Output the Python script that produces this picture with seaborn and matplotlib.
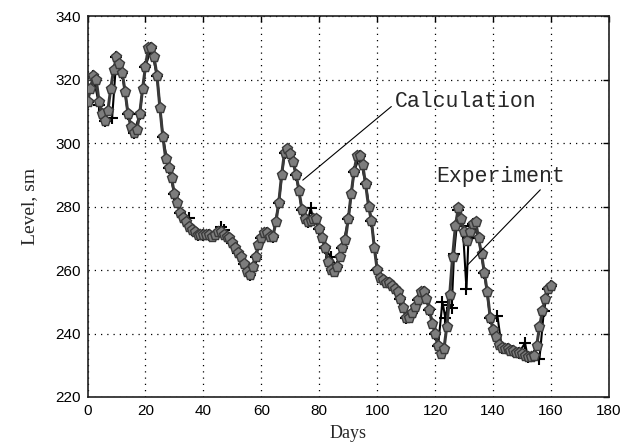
import numpy as np
import pandas as pd
import matplotlib
matplotlib.use("Agg")
import matplotlib.pyplot as plt
import seaborn as sns

# ---- data ----
calc_days = list(range(0, 161))
calc_level = [
    313, 317, 321, 320, 313, 309, 307, 310, 317, 323,
    327, 325, 322, 316, 309, 305, 303, 304, 309, 317,
    324, 330, 330, 327, 321, 311, 302, 295, 292, 289,
    284, 281, 278, 276.5, 275, 273.5, 272.5, 272, 271, 271,
    271, 271, 271, 270.5, 271, 272, 272, 271, 270.5, 270,
    268.5, 267, 265.5, 264, 262, 259.5, 258.5, 261, 264, 268,
    270, 271.5, 271.5, 270.5, 270.5, 275, 281, 290, 297, 298,
    296.5, 294, 290, 285, 279, 276, 275, 275.5, 276, 276,
    273, 270, 267, 262.5, 260, 259.5, 261, 264, 267, 269.5,
    276, 284, 291, 296, 296, 293, 287, 280, 275.5, 267,
    260, 257.5, 257, 256, 256, 255, 254, 253, 251, 248,
    245, 245, 246.5, 248.5, 250.5, 253, 253, 251, 247.5, 243,
    240, 236, 233.5, 235, 242, 252, 264, 274, 279.5, 276,
    272, 269, 272, 274.5, 275, 270, 265, 259, 253, 245,
    241, 239, 236.5, 235.5, 235, 235, 234.5, 234.5, 234, 234,
    233.5, 233, 232.5, 232.5, 233, 236, 242, 247, 251, 254,
    255,
]

exp_days = [0, 2, 4, 6, 8.5, 10, 12, 14, 16, 18, 20, 22, 24, 26, 28, 30, 32,
            35, 36, 38, 40, 42, 44, 46, 47, 48, 50, 52, 54, 56, 58, 60, 62,
            64, 66, 68, 70, 72, 74, 76, 77, 78, 80, 82, 84, 86, 88, 90, 92,
            94, 96, 98, 100, 102, 104, 106, 108, 110, 112, 114, 116, 118,
            120, 121, 122.5, 123.5, 124.5, 125.7, 126.5, 128, 129.5, 130.8,
            131.5, 133, 135, 137, 139, 141.5, 143, 145, 147, 149, 151, 152,
            154, 156, 157.5, 159, 160]
exp_level = [313, 321, 312, 307, 308, 327, 322, 309, 303, 309, 324, 330, 321,
             302, 292, 284, 278, 276.5, 272.5, 271, 271, 271, 271, 273.5, 272.5,
             270.5, 268.5, 265.5, 262, 258.5, 264, 270, 271.5, 270.5, 281,
             297, 296.5, 290, 279, 275, 279.5, 276, 273, 267, 264, 261, 267,
             276, 291, 296, 287, 275.5, 260, 257, 256, 254, 251, 245, 246.5,
             250.5, 253, 247.5, 240, 236, 250, 245, 249, 248, 265, 279, 274,
             254, 270, 274.5, 270, 259, 245, 245.5, 235.5, 235, 234.5, 234,
             237, 232.5, 233, 232, 247, 254, 255]

xticks = [0, 20, 40, 60, 80, 100, 120, 140, 160, 180]
yticks = [220, 240, 260, 280, 300, 320, 340]

calc_df = pd.DataFrame({"Days": calc_days, "Level": calc_level})
exp_df = pd.DataFrame({"Days": exp_days, "Level": exp_level})

sns.set_theme(style="white")
plt.rcParams["font.family"] = ["Liberation Sans", "DejaVu Sans"]

fig = plt.figure(figsize=(6.3, 4.45), dpi=100)
ax = fig.add_axes([87.5 / 630, 1 - 397 / 445, (609 - 87.5) / 630, (397 - 16) / 445])

sns.lineplot(data=exp_df, x="Days", y="Level", ax=ax, color="black",
             linewidth=1.5, marker="+", markersize=9, markeredgewidth=1.5,
             markeredgecolor="black", sort=False, estimator=None, zorder=2)
sns.lineplot(data=calc_df, x="Days", y="Level", ax=ax, color="#3a3a3a",
             linewidth=2.2, marker="p", markersize=8, markerfacecolor="#7d7d7d",
             markeredgecolor="#3a3a3a", markeredgewidth=1.0, sort=False,
             estimator=None, zorder=3)

ax.set_xlim(0, 180)
ax.set_ylim(220, 340)
ax.set_xticks(xticks)
ax.set_yticks(yticks)
ax.tick_params(direction="in", top=True, right=True, length=4, width=1,
               labelsize=11, colors="black", pad=5)
ax.grid(True, color="black", linestyle=(0, (1, 4)), linewidth=0.9)
for s in ax.spines.values():
    s.set_color("#202020")
    s.set_linewidth(1.2)

ax.set_xlabel("Days", family=["Liberation Serif"], fontsize=13, labelpad=5)
ax.set_ylabel("Level, sm", family=["Liberation Serif"], fontsize=14, labelpad=12)

ax.annotate("Calculation", xy=(74.3, 288.3), xytext=(106, 313),
            ha="left", va="center", family=["Liberation Mono"], fontsize=15.5,
            arrowprops=dict(arrowstyle="-", color="black", lw=0.8,
                            relpos=(0, 0.4), shrinkA=0, shrinkB=0))
ax.annotate("Experiment", xy=(131.2, 261.6), xytext=(120.5, 289.6),
            ha="left", va="center", family=["Liberation Mono"], fontsize=15.5,
            arrowprops=dict(arrowstyle="-", color="black", lw=0.8,
                            relpos=(0.83, 0), shrinkA=0, shrinkB=0))

fig.savefig("out.png", dpi=100)
